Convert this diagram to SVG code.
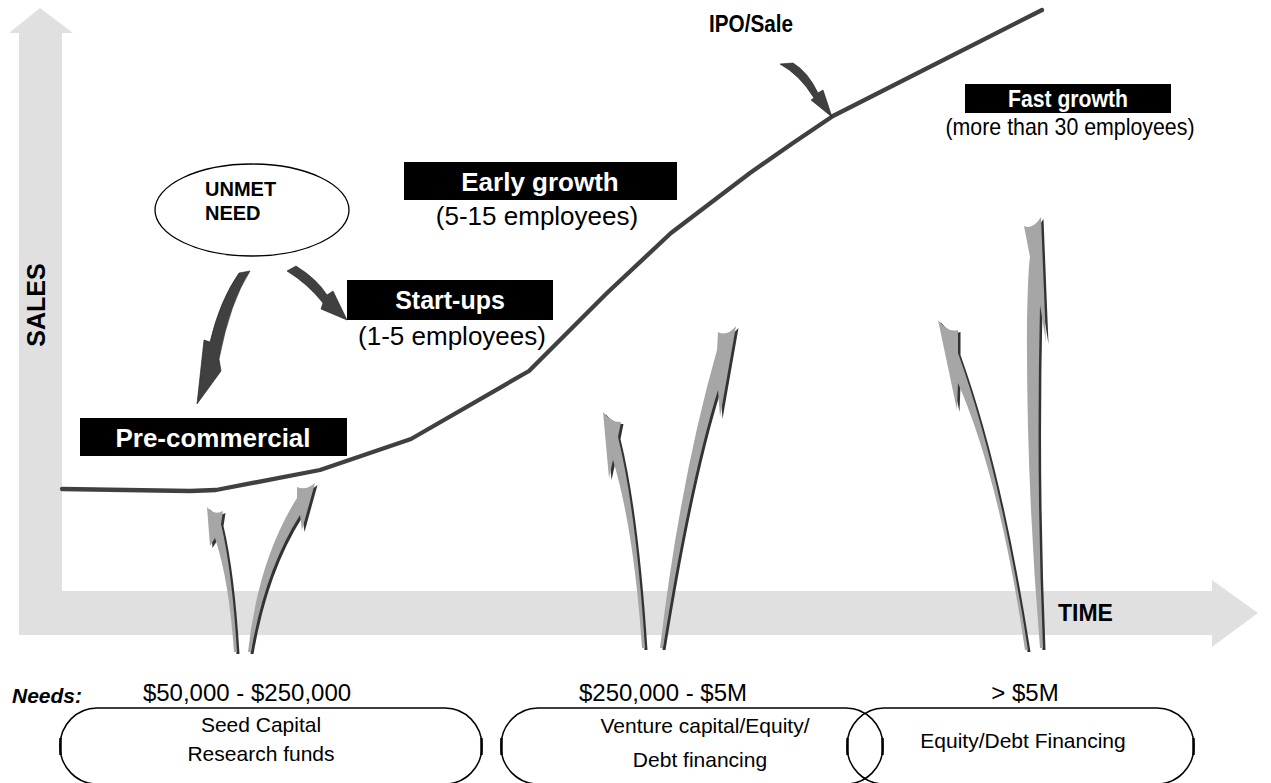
<svg xmlns="http://www.w3.org/2000/svg" xmlns:xlink="http://www.w3.org/1999/xlink" width="1271" height="783" viewBox="0 0 1271 783">
<style>
.ax{fill:#e0e0e0}
.lbl{fill:#000;font-family:"Liberation Sans",Arial,sans-serif}
.b{font-weight:bold}
.w{fill:#fff}
.box{fill:#000}
.ga{fill:#a6a6a6}
.gs{fill:#333}
.da{fill:#404040;stroke:#1e1e1e;stroke-width:0.6}
.curve{fill:none;stroke:#404040;stroke-width:4.3;stroke-linejoin:round;stroke-linecap:round}
.brk{fill:none;stroke:#000;stroke-width:1.5}
.tick{stroke:#000;stroke-width:2.5}
</style>
<defs>
<path id="a1" d="M 207,507 Q 215,516 223,511 L 221,524 Q 232,570 237,652 L 234,652 Q 229,580 215,538 L 210,546 Z"/>
<path id="a2" d="M 297,487 Q 306,491 315,483 L 302,530 L 300,515 Q 265,570 251,652 L 248,652 Q 258,560 297,498 Z"/>
<path id="a3" d="M 603,412 Q 612,423 621,422 L 618,437 Q 636,510 645,648 L 642,648 Q 634,530 613,460 L 609,478 Z"/>
<path id="a4" d="M 718,332 Q 727,337 736,326 L 720,417 L 718,390 Q 690,480 663,648 L 660,648 Q 680,480 717,350 Z"/>
<path id="a5" d="M 938,320 Q 948,333 958,330 L 958,353 Q 1000,470 1028,650 L 1025,650 Q 1000,480 958,383 L 957,410 Z"/>
<path id="a6" d="M 1024,226 Q 1033,230 1041,217 L 1046,342 L 1040,305 Q 1036,480 1043,648 L 1040,648 Q 1026,480 1027,320 Q 1028,270 1030,257 Z"/>
</defs>

<g id="axes">
<polygon class="ax" points="19,635 19,33 9,33 40,8 73,33 62,33 62,591 1212,591 1212,580 1258,613 1212,647 1212,635"/>
<text class="lbl b" x="1058" y="621" font-size="23">TIME</text>
<text class="lbl b" font-size="25" text-anchor="middle" transform="translate(45,305) rotate(-90)">SALES</text>
</g>

<g id="funding-arrows">
<use xlink:href="#a1" class="gs" transform="translate(2.5,2)"/>
<use xlink:href="#a1" class="ga"/>
<use xlink:href="#a2" class="gs" transform="translate(2.5,2)"/>
<use xlink:href="#a2" class="ga"/>
<use xlink:href="#a3" class="gs" transform="translate(2.5,2)"/>
<use xlink:href="#a3" class="ga"/>
<use xlink:href="#a4" class="gs" transform="translate(2.5,2)"/>
<use xlink:href="#a4" class="ga"/>
<use xlink:href="#a5" class="gs" transform="translate(2.5,2)"/>
<use xlink:href="#a5" class="ga"/>
<use xlink:href="#a6" class="gs" transform="translate(2.5,2)"/>
<use xlink:href="#a6" class="ga"/>
</g>

<g id="connectors">
<path class="curve" d="M 62,489 L 190,491 L 216,490 L 320,470 L 411,439 L 529,371 L 607,293 L 671,233 L 750,173 L 793,143 L 833,116 L 1042,10"/>
<path class="da" d="M 239,273 L 250,271 Q 230,302 219,359 L 221,371 L 197,404 L 204,340 L 210,342 Q 220,300 239,273 Z"/>
<path class="da" d="M 287,271 L 296,266 Q 317,279 327,295 L 333,291 L 347,320 L 321,309 L 323,303 Q 308,284 287,271 Z"/>
<path class="da" d="M 780,64 L 793,63 Q 808,72 818,93 L 823,90 L 832,117 L 811,100 L 814,98 Q 800,75 780,64 Z"/>
</g>

<g id="ipo">
<text class="lbl b" x="709" y="32" font-size="24" textLength="84" lengthAdjust="spacingAndGlyphs">IPO/Sale</text>
</g>

<g id="unmet-need">
<ellipse cx="252" cy="210" rx="97" ry="46" fill="#fff" stroke="#000" stroke-width="1.3"/>
<text class="lbl b" x="205" y="196" font-size="20">UNMET</text>
<text class="lbl b" x="205" y="220" font-size="20">NEED</text>
</g>

<g id="pre-commercial">
<rect class="box" x="80" y="418" width="267" height="38"/>
<text class="lbl b w" x="213" y="447" font-size="26" text-anchor="middle">Pre-commercial</text>
</g>

<g id="start-ups">
<rect class="box" x="347" y="280" width="206" height="40"/>
<text class="lbl b w" x="450" y="309" font-size="25" text-anchor="middle">Start-ups</text>
<text class="lbl" x="452" y="345" font-size="26" text-anchor="middle">(1-5 employees)</text>
</g>

<g id="early-growth">
<rect class="box" x="404" y="162" width="273" height="38"/>
<text class="lbl b w" x="540" y="191" font-size="26" text-anchor="middle">Early growth</text>
<text class="lbl" x="537" y="225" font-size="26" text-anchor="middle">(5-15 employees)</text>
</g>

<g id="fast-growth">
<rect class="box" x="965" y="84" width="206" height="29"/>
<text class="lbl b w" x="1068" y="107" font-size="24" text-anchor="middle" textLength="120" lengthAdjust="spacingAndGlyphs">Fast growth</text>
<text class="lbl" x="1070" y="135" font-size="24" text-anchor="middle" textLength="249" lengthAdjust="spacingAndGlyphs">(more than 30 employees)</text>
</g>

<g id="needs">
<text class="lbl b" x="12" y="703" font-size="21" font-style="italic">Needs:</text>
</g>

<g id="need-seed">
<text class="lbl" x="247" y="701" font-size="24" text-anchor="middle">$50,000 - $250,000</text>
<path class="brk" d="M 97,708 L 445,708 A 37 38 0 0 1 445,784 M 97,708 A 37 38 0 0 0 97,784"/>
<line class="tick" x1="60.5" y1="738" x2="60.5" y2="755"/>
<line class="tick" x1="481.5" y1="738" x2="481.5" y2="755"/>
<text class="lbl" x="261" y="732" font-size="21" text-anchor="middle">Seed Capital</text>
<text class="lbl" x="261" y="761" font-size="21" text-anchor="middle">Research funds</text>
</g>

<g id="need-venture">
<text class="lbl" x="663" y="701" font-size="24" text-anchor="middle">$250,000 - $5M</text>
<path class="brk" d="M 538,708 L 846,708 A 37 38 0 0 1 846,784 M 538,708 A 37 38 0 0 0 538,784"/>
<line class="tick" x1="501.5" y1="738" x2="501.5" y2="755"/>
<line class="tick" x1="882.5" y1="738" x2="882.5" y2="755"/>
<text class="lbl" x="705" y="733" font-size="21" text-anchor="middle">Venture capital/Equity/</text>
<text class="lbl" x="700" y="767" font-size="21" text-anchor="middle">Debt financing</text>
</g>

<g id="need-equity">
<text class="lbl" x="1025" y="701" font-size="24" text-anchor="middle">&gt; $5M</text>
<path class="brk" d="M 884,708 L 1157,708 A 37 38 0 0 1 1157,784 M 884,708 A 37 38 0 0 0 884,784"/>
<line class="tick" x1="847.5" y1="738" x2="847.5" y2="755"/>
<line class="tick" x1="1193.5" y1="738" x2="1193.5" y2="755"/>
<text class="lbl" x="1023" y="748" font-size="21" text-anchor="middle">Equity/Debt Financing</text>
</g>
</svg>
